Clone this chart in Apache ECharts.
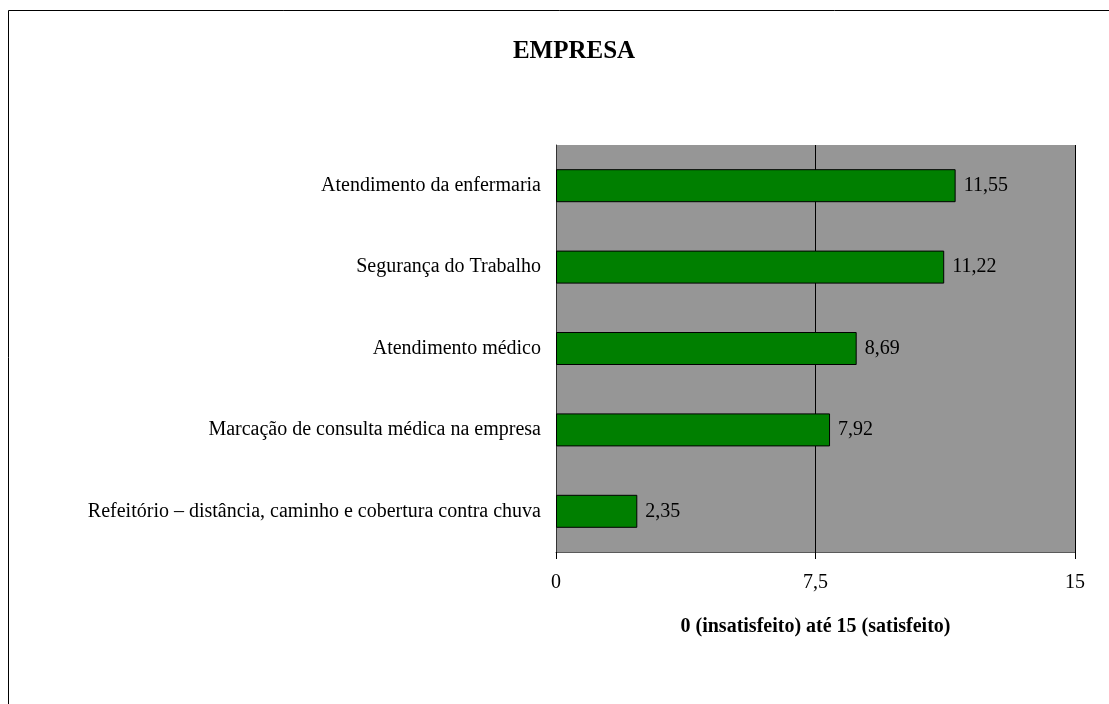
<!DOCTYPE html>
<html><head><meta charset="utf-8">
<script src="https://cdn.jsdelivr.net/npm/echarts@6/dist/echarts.min.js"></script>
<style>html,body{margin:0;padding:0;background:#fff}#c{width:1109px;height:704px}</style>
</head><body><div id="c"></div>
<script>
const categories = [
  "Atendimento da enfermaria",
  "Segurança do Trabalho",
  "Atendimento médico",
  "Marcação de consulta médica na empresa",
  "Refeitório – distância, caminho e cobertura contra chuva"
];
const values = [11.55, 11.22, 8.69, 7.92, 2.35];
const tickValues = [0, 7.5, 15];
const titleText = "EMPRESA";
const axisName = "0 (insatisfeito) até 15 (satisfeito)";

const FONT = '"Liberation Serif", "Times New Roman", serif';
const fmt = v => String(v).replace('.', ',');
const chart = echarts.init(document.getElementById('c'), null, {renderer: 'canvas'});
chart.setOption({
  animation: false,
  backgroundColor: '#fff',
  graphic: [{
    type: 'rect', shape: {x: 8.5, y: 10.5, width: 1200, height: 800},
    style: {fill: 'none', stroke: '#000', lineWidth: 1}, silent: true, z: -10
  }],
  title: {
    text: titleText, left: 569, top: 34, textAlign: 'center',
    textStyle: {fontFamily: FONT, fontWeight: 'bold', fontSize: 25, color: '#000'}
  },
  grid: {left: 556, top: 145, width: 519, height: 407, show: true, backgroundColor: '#969696', borderWidth: 0},
  xAxis: {
    type: 'value', min: 0, max: 15, interval: 7.5,
    axisLine: {show: true, lineStyle: {color: '#5a5a5a', width: 1}},
    axisTick: {show: true, length: 7, lineStyle: {color: '#000'}},
    splitLine: {show: true, lineStyle: {color: '#000', width: 1}},
    axisLabel: {fontFamily: FONT, fontSize: 20, color: '#000', margin: 21,
      formatter: v => tickValues.includes(v) ? fmt(v) : ''},
    name: axisName, nameLocation: 'middle', nameGap: 65,
    nameTextStyle: {fontFamily: FONT, fontWeight: 'bold', fontSize: 20, color: '#000'}
  },
  yAxis: {
    type: 'category', data: categories, inverse: true,
    axisLine: {show: true, lineStyle: {color: '#333', width: 1}},
    axisTick: {show: false},
    axisLabel: {fontFamily: FONT, fontSize: 20, color: '#000', margin: 15}
  },
  series: [{
    type: 'bar', data: values, barWidth: 33,
    itemStyle: {color: '#007f00', borderColor: '#000', borderWidth: 1},
    label: {show: true, position: 'right', distance: 8, fontFamily: FONT, fontSize: 20, color: '#000',
      formatter: p => p.value.toFixed(2).replace('.', ',')}
  }]
});
</script></body></html>
